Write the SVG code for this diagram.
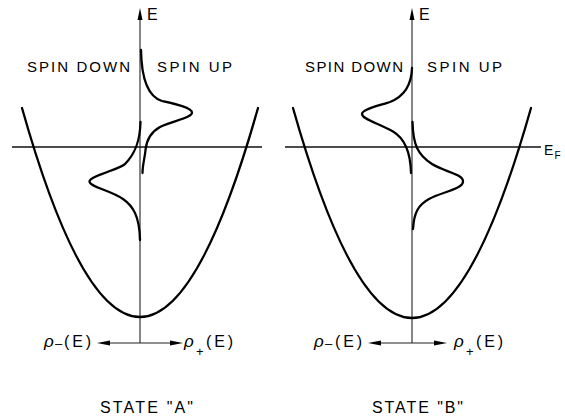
<svg xmlns="http://www.w3.org/2000/svg" width="565" height="418" viewBox="0 0 565 418">
<style>
.bg{fill:#fff}
.curve{fill:none;stroke:#000;stroke-width:2.3;stroke-linecap:round;stroke-linejoin:round}
.axis{fill:none;stroke:#222;stroke-width:1.1}
.fermi{fill:none;stroke:#111;stroke-width:1.3}
.head{fill:#000}
.lbl{font-family:"Liberation Sans","DejaVu Sans",sans-serif;fill:#000}
.spin{font-size:15px}
.state{font-size:16px}
.e{font-size:16px}
.rho{font-size:17px;font-style:italic}
.pe{font-size:16px}
.sub{font-size:13px}
</style>
<rect class="bg" x="0" y="0" width="565" height="418"/>

<g id="stateA">
  <g id="axesA">
    <line class="axis" x1="140" y1="18" x2="140" y2="343"/>
    <polygon class="head" points="140,8 137.5,20 142.5,20"/>
    <line class="fermi" x1="12" y1="147" x2="262" y2="147"/>
    <line class="axis" x1="106" y1="343" x2="174" y2="343"/>
    <polygon class="head" points="97,343 110,340.5 110,345.5"/>
    <polygon class="head" points="183,343 170,340.5 170,345.5"/>
  </g>
  <path id="bandA" class="curve" d="M22,108 Q140,526 258,108"/>
  <path id="upA" class="curve" d="M141,50 C141.5,80 149,97 162,101 C173,103.5 192,107.5 192,112.5 C192,118 172,121 160,127 C151,132 146.5,140 145.5,150 C144.8,158 142.5,165 142.5,173"/>
  <path id="downA" class="curve" d="M140.5,122 C140,140 136,153 125,164 C122,168.5 89.5,176 89.5,181.5 C89.5,187 110,190 123,199 C133,206 139.5,216 140,240"/>
  <text class="lbl e" x="147" y="20">E</text>
  <text class="lbl spin" x="27" y="72" textLength="103" lengthAdjust="spacing">SPIN DOWN</text>
  <text class="lbl spin" x="157" y="72" textLength="75" lengthAdjust="spacing">SPIN UP</text>
  <text class="lbl rho" x="44" y="347">ρ</text>
  <text class="lbl sub" x="55" y="348">–</text>
  <text class="lbl pe" x="64" y="347" textLength="27" lengthAdjust="spacing">(E)</text>
  <text class="lbl rho" x="184" y="347">ρ</text>
  <text class="lbl sub" x="196" y="356">+</text>
  <text class="lbl pe" x="206" y="347" textLength="27" lengthAdjust="spacing">(E)</text>
  <text class="lbl state" x="100" y="413" textLength="93" lengthAdjust="spacing">STATE "A"</text>
</g>

<g id="stateB">
  <g id="axesB">
    <line class="axis" x1="412" y1="18" x2="412" y2="343"/>
    <polygon class="head" points="412,8 409.5,20 414.5,20"/>
    <line class="fermi" x1="285" y1="147" x2="541" y2="147"/>
    <line class="axis" x1="377" y1="343" x2="438" y2="343"/>
    <polygon class="head" points="368,343 381,340.5 381,345.5"/>
    <polygon class="head" points="447,343 434,340.5 434,345.5"/>
  </g>
  <path id="bandB" class="curve" d="M293,108 Q412,528 531,108"/>
  <path id="downB" class="curve" d="M412,68 C411.5,85 405,96 390,102 C380,105.5 362,109 362,114 C362,119 378,123 393,131.5 C404,138 410.5,150 411,173"/>
  <path id="upB" class="curve" d="M412.5,122 C413,145 418,155 432,164 C445,172 463,174 463,181.5 C463,189 442,192 429,199 C418,205 414,213 413,229"/>
  <text class="lbl e" x="419" y="20">E</text>
  <text class="lbl spin" x="305" y="72" textLength="98" lengthAdjust="spacing">SPIN DOWN</text>
  <text class="lbl spin" x="427" y="72" textLength="75" lengthAdjust="spacing">SPIN UP</text>
  <text class="lbl" x="544" y="155" font-size="14">E</text>
  <text class="lbl" x="554.5" y="159" font-size="10">F</text>
  <text class="lbl rho" x="314" y="347">ρ</text>
  <text class="lbl sub" x="325" y="348">–</text>
  <text class="lbl pe" x="335" y="347" textLength="27" lengthAdjust="spacing">(E)</text>
  <text class="lbl rho" x="454" y="347">ρ</text>
  <text class="lbl sub" x="466" y="356">+</text>
  <text class="lbl pe" x="476" y="347" textLength="27" lengthAdjust="spacing">(E)</text>
  <text class="lbl state" x="372" y="413" textLength="91" lengthAdjust="spacing">STATE "B"</text>
</g>
</svg>
